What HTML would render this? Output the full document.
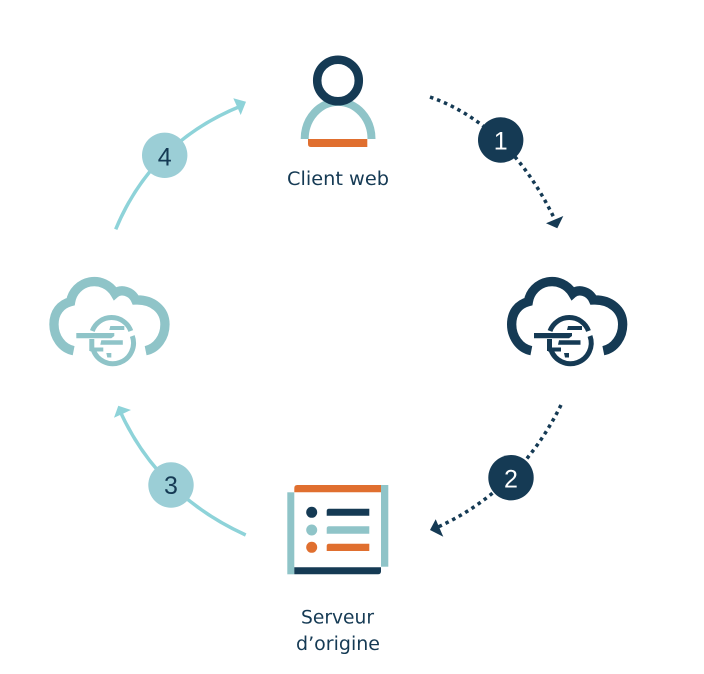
<!DOCTYPE html>
<html><head><meta charset="utf-8"><style>
html,body{margin:0;padding:0;background:#fff}
svg{display:block}
text{font-family:"DejaVu Sans","Liberation Sans",sans-serif;fill:#153a54}
.n{font-family:"Liberation Sans",sans-serif;font-size:25px;text-anchor:middle}
</style></head><body>
<svg width="704" height="674" viewBox="0 0 704 674" xmlns="http://www.w3.org/2000/svg">
<rect width="704" height="674" fill="#fff"/>
<defs>
<g id="cl" fill="none" stroke="currentColor">
<path transform="translate(490 265) scale(.33333)" stroke-width="28" d="M124 257C88 250 65 215 65 178C65 142 85 118 115 110A72 72 0 0 1 248 85C265 70 298 78 310 105C362 103 398 135 398 178C398 215 375 250 340 257"/>
<g stroke-width="5">
<path d="M550 331A20.500 20.500 0 0 1 588.500 331"/>
<path d="M590 336A20.500 20.500 0 0 1 551 350"/>
<path d="M549.500 339V351"/>
</g>
<g fill="currentColor" stroke="none">
<path d="M534 333H572V336L569 338.300H534Z"/>
<path d="M568 326H582V330H567Z"/>
<path d="M559 340.300H580.500V344.800H558Z"/>
<path d="M548 347.500H561V351.500H548Z"/>
<path d="M564 353H569V357.500H565Z"/>
</g>
</g>
</defs>

<!-- arrows -->
<path d="M430 97Q510 125 556 222" fill="none" stroke="#153a54" stroke-width="3.500" stroke-dasharray="3.500 4"/>
<path d="M563.300 216L546 223.300L557.300 228.300Z" fill="#153a54"/>
<path d="M561 405Q519 490 438 527" fill="none" stroke="#153a54" stroke-width="3.500" stroke-dasharray="3.500 4"/>
<path d="M435.700 519.300L430 530L443.300 536.700Z" fill="#153a54"/>
<path d="M245.700 535Q158 495 120 411" fill="none" stroke="#8ed3d9" stroke-width="3.500"/>
<path d="M118.300 405.700L131 410L114 417.700Z" fill="#8ed3d9"/>
<path d="M115.700 229.300Q152 142 241 106" fill="none" stroke="#8ed3d9" stroke-width="3.500"/>
<path d="M233.300 98.300L246 101.700L240.700 115Z" fill="#8ed3d9"/>

<circle cx="500.700" cy="140" r="22.700" fill="#153a54"/>
<circle cx="511" cy="477.700" r="22.700" fill="#153a54"/>
<circle cx="171" cy="485" r="22.700" fill="#9bced6"/>
<circle cx="164.700" cy="155.300" r="22.700" fill="#9bced6"/>
<text class="n" x="500.700" y="149.500" style="fill:#fff">1</text>
<text class="n" x="511" y="487.500" style="fill:#fff">2</text>
<text class="n" x="171" y="494" >3</text>
<text class="n" x="164.700" y="165.500">4</text>

<!-- user -->
<path d="M304.700 139A33.300 37 0 0 1 371.500 139" fill="none" stroke="#8fc4c8" stroke-width="8"/>
<circle cx="338" cy="80.500" r="20.800" fill="#fff" stroke="#153a54" stroke-width="8.500"/>
<path d="M308 139H367.300V147H311Q308 147 308 144Z" fill="#e06f2f"/>
<text x="287" y="185" font-size="18.500" textLength="102" lengthAdjust="spacingAndGlyphs">Client web</text>

<!-- clouds -->
<use href="#cl" style="color:#153a54"/>
<use href="#cl" x="-457.700" style="color:#8fc4c8"/>

<!-- server -->
<rect x="287.300" y="492.300" width="7" height="82" fill="#8fc4c8"/>
<rect x="381" y="485" width="7.300" height="81.700" fill="#8fc4c8"/>
<path d="M294.300 492.300V488Q294.300 485 297.300 485H381V492.300Z" fill="#e06f2f"/>
<path d="M294.300 567.300H381V571.300Q381 574.300 378 574.300H294.300Z" fill="#153a54"/>
<circle cx="311.700" cy="512.300" r="5.500" fill="#153a54"/>
<circle cx="311.700" cy="530" r="5.500" fill="#8fc4c8"/>
<circle cx="311.700" cy="547.300" r="5.500" fill="#e06f2f"/>
<path d="M326.700 515.700V511Q326.700 508.700 329 508.700H369.300V515.700Z" fill="#153a54"/>
<path d="M326.700 533.700V528.600Q326.700 526.300 329 526.300H369.300V533.700Z" fill="#8fc4c8"/>
<path d="M326.700 551V546Q326.700 543.700 329 543.700H369.300V551Z" fill="#e06f2f"/>
<text x="301" y="623.500" font-size="18.500" textLength="73" lengthAdjust="spacingAndGlyphs">Serveur</text>
<text x="296" y="650" font-size="18.500" textLength="84" lengthAdjust="spacingAndGlyphs">d’origine</text>
</svg>
</body></html>
